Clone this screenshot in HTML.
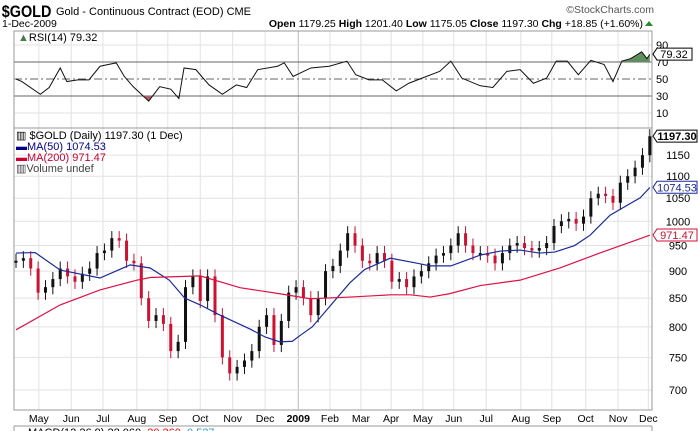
<!DOCTYPE html>
<html><head><meta charset="utf-8"><style>
body{margin:0;background:#fff;width:698px;height:431px;overflow:hidden;font-family:"Liberation Sans",sans-serif}
svg{display:block}
</style></head><body>
<svg id="c" width="698" height="431" viewBox="0 0 698 431" font-family="Liberation Sans, sans-serif">
<text x="2" y="17" font-size="17" font-weight="bold" transform="scale(0.85,1)">$GOLD</text>
<text x="56" y="15" font-size="11">Gold - Continuous Contract (EOD) CME</text>
<text x="654" y="13" font-size="10.5" fill="#555" text-anchor="end">©StockCharts.com</text>
<text x="2" y="27" font-size="10.5">1-Dec-2009</text>
<text x="643" y="27" font-size="10.5" text-anchor="end"><tspan font-weight="bold">Open</tspan> 1179.25 <tspan font-weight="bold">High</tspan> 1201.40 <tspan font-weight="bold">Low</tspan> 1175.05 <tspan font-weight="bold">Close</tspan> 1197.30 <tspan font-weight="bold">Chg</tspan> +18.85 (+1.60%)</text>
<polygon points="645,26 653,26 649,21" fill="#2a8a2a"/>
<g id="grid"></g><g id="marks"></g>
<rect x="14" y="31" width="638" height="97" fill="none" stroke="#999"/>
<rect x="14" y="128" width="638" height="282" fill="none" stroke="#999"/>
<line x1="14" y1="426" x2="652" y2="426" stroke="#999"/>
<line x1="14" y1="426" x2="14" y2="431" stroke="#999"/>
<line x1="652" y1="426" x2="652" y2="431" stroke="#999"/>
<text x="28" y="436" font-size="11">MACD(12,26,9) 22.060, <tspan fill="red">20.260</tspan>, <tspan fill="#39c">0.527</tspan></text>
<text x="18" y="41" font-size="11"><tspan fill="#4a7a4a">▲</tspan>RSI(14) 79.32</text>
<text x="16" y="139" font-size="11">▥ $GOLD (Daily) 1197.30 (1 Dec)</text>
<text x="16" y="150" font-size="11" fill="#00008b">▬MA(50) 1074.53</text>
<text x="16" y="161" font-size="11" fill="#cc0033">▬MA(200) 971.47</text>
<text x="16" y="172" font-size="11" fill="#444">▥Volume undef</text>
</svg>
<script>
const closes=[920,925,905,860,870,885,905,890,880,895,905,935,940,965,960,920,915,850,810,820,805,760,775,870,890,845,890,820,750,725,735,745,760,800,820,770,810,860,870,850,820,850,900,910,940,975,950,920,915,935,920,880,885,870,890,900,915,930,935,950,975,950,935,935,930,915,935,950,955,945,940,945,955,990,1000,1005,995,1010,1050,1060,1055,1040,1085,1100,1120,1150,1197];
const ma50Weeks=[0,2.6,6,11.4,15.5,18.2,20.8,22.9,25,27.7,31.8,33.8,35.8,37.5,38.6,40.2,45.3,47.3,50.8,54.5,56.2,59,63,65.7,68.4,71,73.1,75.8,77.9,80.6,84.7,86];
const ma50Vals=[935,936,902,887,912,906,883,850,838,820,796,783,775,776,786,800,878,903,925,915,910,910,931,939,941,935,937,950,971,1013,1051,1074];
const ma200Weeks=[0,6,11.4,16.4,18.2,25,30.4,35.8,39.9,45.3,50.8,53.5,56.2,58.8,63,68.4,73.8,79.2,86];
const ma200Vals=[795,838,865,883,888,891,869,858,849,852,856,856,852,858,873,883,906,935,971];
const rsiWeeks=[0,0.8,3.3,4.5,6,6.9,8.4,9.9,11.4,13.6,14.7,15.9,18,19.5,21,22.1,22.8,24.4,26.2,28,29.9,31.3,32.8,35.5,36.4,37.6,40,42.5,44.9,46.1,47.9,49.7,51.6,53.3,55.1,57.5,59,60.5,63,64.7,66.6,68.4,70.2,72,73.3,74.8,76.3,78,79.8,81,82.2,83.4,84.9,85.6,86];
const rsiVals=[50,47,32,40,63,47,49,49,65,69,53,41,24,41,38,27,63,61,43,32,43,40,61,65,69,53,63,65,71,55,49,49,36,45,51,59,71,51,42,40,59,61,45,51,71,71,55,72,67,47,71,74,82,74,79];
const priceTicks=[700,750,800,850,900,950,1000,1050,1100,1150];
const rsiTicks=[10,30,50,70,90];
const monthWeeks=[3.1,7.5,11.8,16.4,20.6,25,29.4,33.8,38.3,42.6,46.8,50.9,55.2,59.4,63.8,68.5,72.7,77.3,81.7,85.8];
const monthLabels=["May","Jun","Jul","Aug","Sep","Oct","Nov","Dec","2009","Feb","Mar","Apr","May","Jun","Jul","Aug","Sep","Oct","Nov","Dec"];
const NS="http://www.w3.org/2000/svg";
const X=w=>16+w*7.37, Y=p=>390-473*Math.log(p/700), R=v=>96-(v-30)*0.85;
const svg=document.getElementById('c'),grid=document.getElementById('grid'),marks=document.getElementById('marks');
function mk(tag,attrs,parent){const e=document.createElementNS(NS,tag);for(const k in attrs)e.setAttribute(k,attrs[k]);(parent||svg).appendChild(e);return e;}
monthWeeks.forEach((w,i)=>{
 const x=X(w),bold=monthLabels[i]==="2009";
 const l=mk('line',{x1:x,x2:x,y1:31,y2:410,stroke:bold?'#bbb':'#e2e2e2'},grid);
 
 
 const t=mk('text',{x:x,y:422,'font-size':10.5,'text-anchor':'middle','font-weight':bold?'bold':'normal'});
 t.textContent=monthLabels[i];
 
 
});
priceTicks.forEach(p=>{
 const y=Y(p);
 const l=mk('line',{x1:14,x2:652,y1:y,y2:y,stroke:'#e2e2e2'},grid);
 
 
 const t=mk('text',{x:678,y:y+4,'font-size':11,'text-anchor':'middle'});
 t.textContent=p;
 
 
});
rsiTicks.forEach(v=>{
 const y=R(v),dark=(v===30||v===70);
 const l=mk('line',{x1:14,x2:652,y1:y,y2:y,stroke:dark?'#666':(v===50?'#666':'#e2e2e2'),'stroke-dasharray':v===50?'8,3,2,3':'none'},grid);
 
 
 const t=mk('text',{x:656,y:y+4,'font-size':11});
 t.textContent=v;
 
 
});
const rpts=rsiWeeks.map((w,i)=>X(w)+','+R(rsiVals[i]));
const defs=mk('defs',{});
const c1=mk('clipPath',{id:'above'},defs);mk('rect',{x:14,y:31,width:638,height:R(70)-31},c1);
const c2=mk('clipPath',{id:'below'},defs);mk('rect',{x:14,y:R(30),width:638,height:128-R(30)},c2);
const g1=mk('polygon',{points:X(rsiWeeks[0])+','+R(70)+' '+rpts.join(' ')+' '+X(rsiWeeks[rsiWeeks.length-1])+','+R(70),fill:'#5f8f5f','clip-path':'url(#above)'},marks);


const g2=mk('polygon',{points:X(rsiWeeks[0])+','+R(30)+' '+rpts.join(' ')+' '+X(rsiWeeks[rsiWeeks.length-1])+','+R(30),fill:'#b06070','clip-path':'url(#below)'},marks);


const rl=mk('polyline',{points:rpts.join(' '),fill:'none',stroke:'#111','stroke-width':1},marks);


closes.forEach((c,i)=>{
 const prev=i?closes[i-1]:c, up=c>=prev, col=up?'#111':'#cc1133';
 const hi=Math.max(c,prev)*1.015, lo=Math.min(c,prev)*0.985;
 const w=mk('line',{x1:X(i),x2:X(i),y1:Y(hi),y2:Y(lo),stroke:col,'stroke-width':1},marks);
 
 
 const r=mk('rect',{x:X(i)-1.5,y:Y(Math.max(c,prev)),width:3,height:Math.max(2,Y(Math.min(c,prev))-Y(Math.max(c,prev))),fill:col},marks);
 
 
});
const m50=mk('polyline',{points:ma50Weeks.map((w,i)=>X(w)+','+Y(ma50Vals[i])).join(' '),fill:'none',stroke:'#1a2a9a','stroke-width':1.2},marks);


const m200=mk('polyline',{points:ma200Weeks.map((w,i)=>X(w)+','+Y(ma200Vals[i])).join(' '),fill:'none',stroke:'#dd1144','stroke-width':1.2},marks);


function tag(v,txt,col,bold,nm){
 const y=Y(v);
 const p=mk('polygon',{points:`653,${y} 657,${y-6} 697,${y-6} 697,${y+6} 657,${y+6}`,fill:'#fff',stroke:col});
 
 
 const t=mk('text',{x:677,y:y+4,'font-size':11,'text-anchor':'middle',fill:col,'font-weight':bold?'bold':'normal'});
 t.textContent=txt;
 
 
}
tag(1197.3,'1197.30','#000',true,'last-price-tag');
tag(1074.53,'1074.53','#1a2a9a',false,'ma50-tag');
tag(971.47,'971.47','#cc1133',false,'ma200-tag');
const rt=R(79.32);
const rp=mk('polygon',{points:`653,${rt} 657,${rt-6} 692,${rt-6} 692,${rt+6} 657,${rt+6}`,fill:'#fff',stroke:'#000'});


const rtx=mk('text',{x:674,y:rt+4,'font-size':11,'text-anchor':'middle'});rtx.textContent='79.32';


</script>
</body></html>
